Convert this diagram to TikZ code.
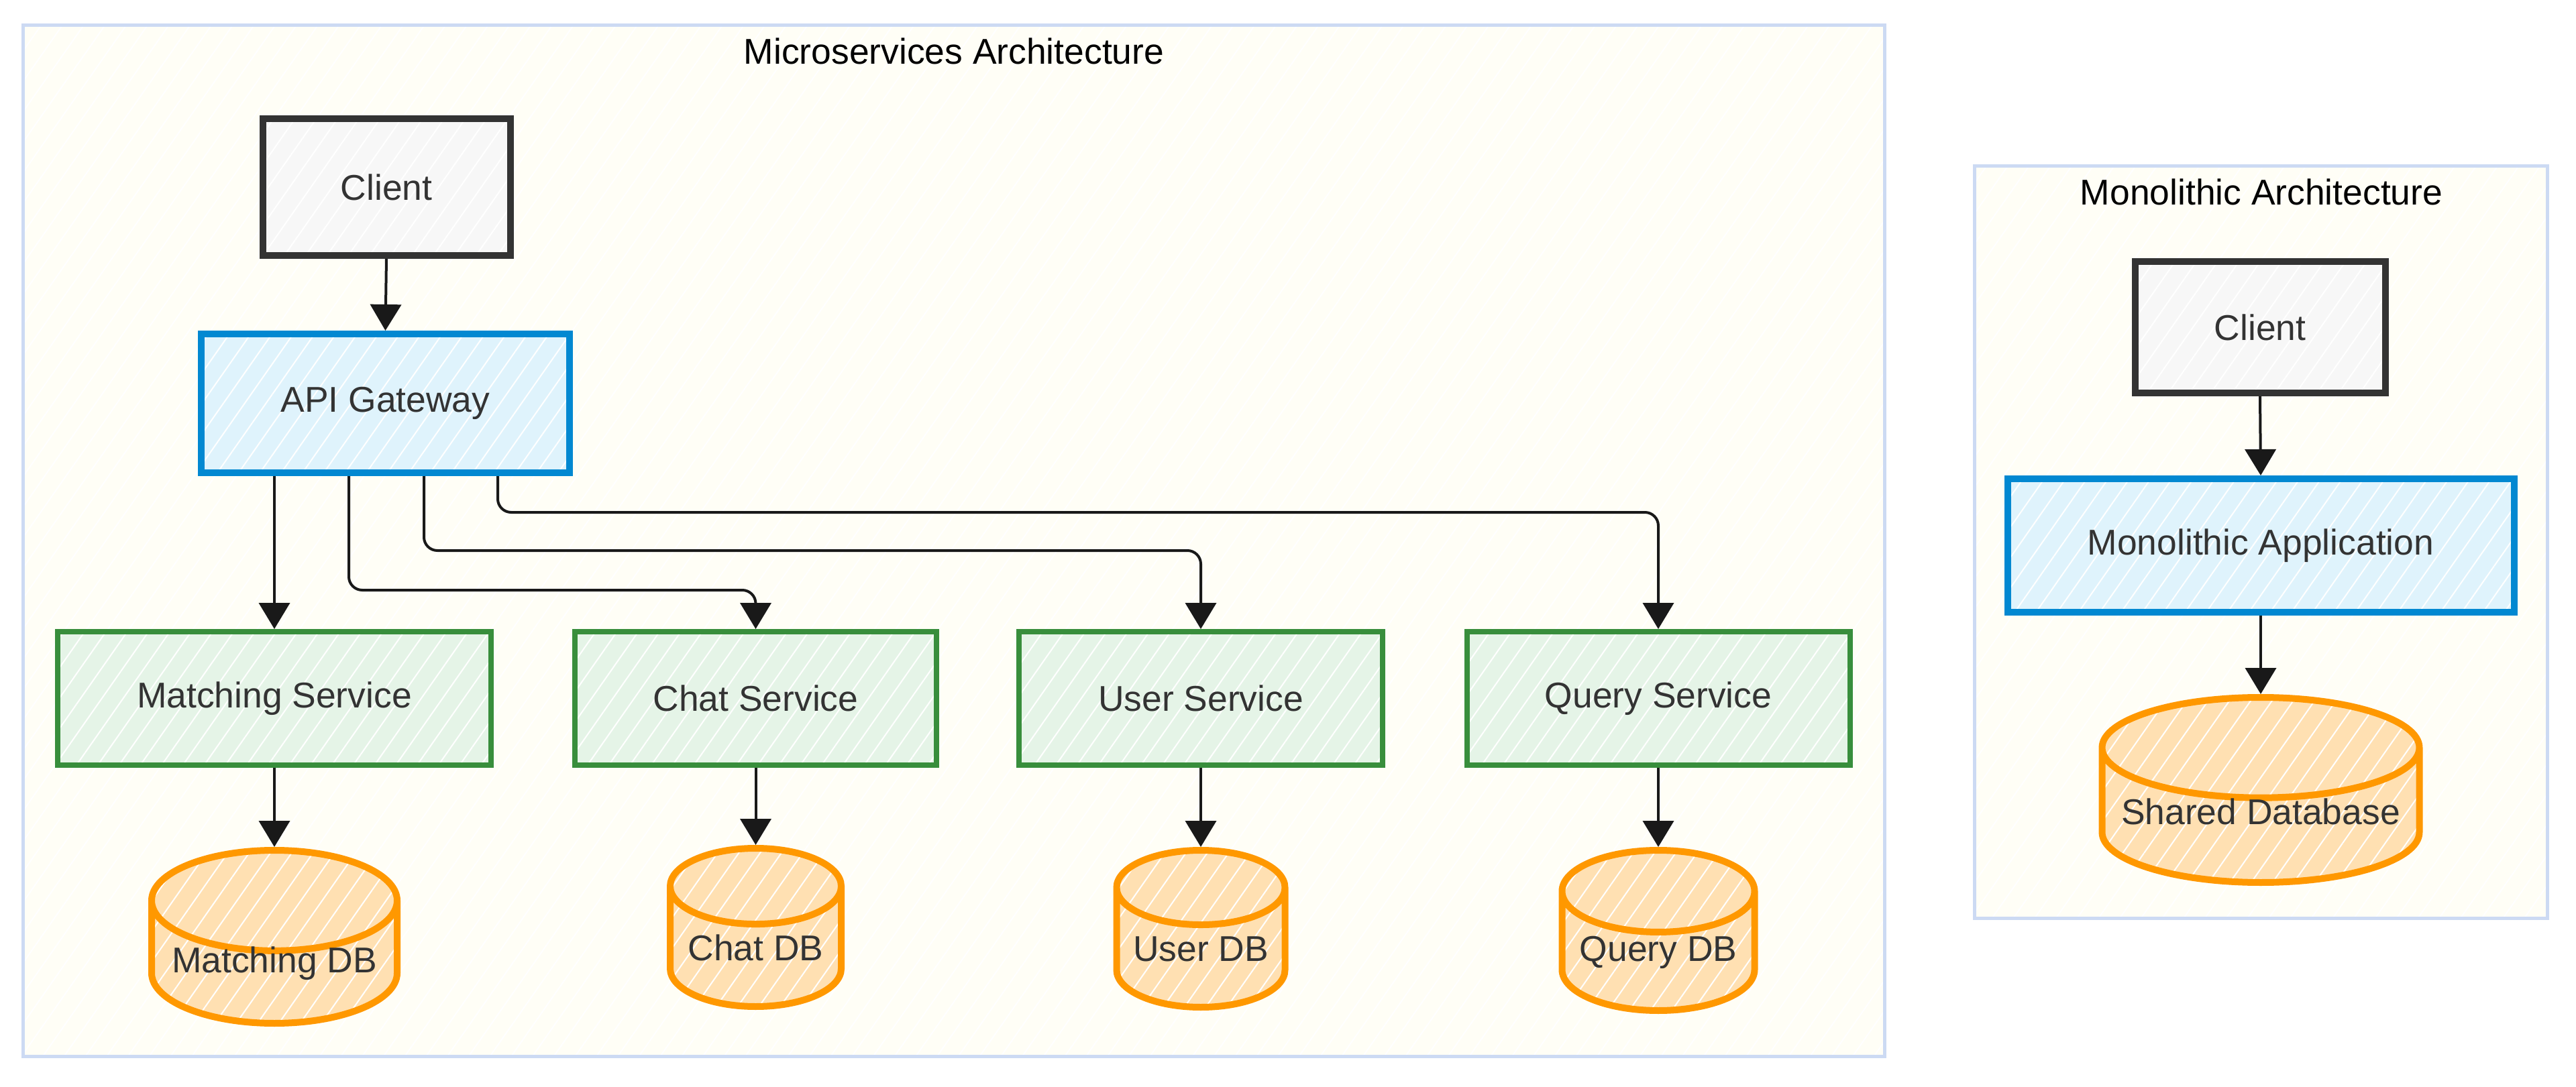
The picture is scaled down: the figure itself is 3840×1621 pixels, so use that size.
\documentclass[tikz,border=0pt]{standalone}
\usepackage{fontspec}
\setmainfont{Liberation Sans}
\usetikzlibrary{shapes.geometric,arrows.meta,patterns.meta}

\definecolor{framecol}{HTML}{CCDAF3}
\definecolor{framefill}{HTML}{FFFEF6}
\definecolor{clientfill}{HTML}{F7F7F7}
\definecolor{clientline}{HTML}{333333}
\definecolor{apifill}{HTML}{DFF3FC}
\definecolor{apiline}{HTML}{0288D1}
\definecolor{svcfill}{HTML}{E5F4E7}
\definecolor{svcline}{HTML}{388E3C}
\definecolor{dbfill}{HTML}{FFE0B2}
\definecolor{dbline}{HTML}{FF9800}
\definecolor{txt}{HTML}{333333}

\tikzset{
  lbl/.style={font=\fontsize{15.2}{18}\selectfont, text=txt, inner sep=0pt},
  sketch/.style={pattern={Lines[angle=55,distance=2.6mm,line width=0.2mm]}, pattern color=white},
  archframe/.style={draw=framecol, line width=0.5mm, preaction={fill=framefill}, preaction={sketch}},
  archtitle/.style={font=\fontsize{15.2}{18}\selectfont, text=black},
  clientbox/.style={lbl, draw=clientline, line width=1mm, preaction={fill=clientfill}, preaction={sketch}},
  apibox/.style={lbl, draw=apiline, line width=1mm, preaction={fill=apifill}, preaction={sketch}},
  svcbox/.style={lbl, draw=svcline, line width=0.8mm, minimum height=19.9mm, preaction={fill=svcfill}, preaction={sketch}},
  dbcyl/.style={lbl, inner ysep=-2.5mm, cylinder, shape border rotate=90, draw=dbline, line width=1mm, anchor=north, preaction={fill=dbfill}, preaction={sketch}},
  arr/.style={-{Triangle[length=3.9mm,width=4.6mm]}, line width=0.4mm, black!90},
}

\begin{document}
\begin{tikzpicture}[x=0.1mm, y=-0.1mm]
\useasboundingbox (0,0) rectangle (3840,1621);

\node[archframe, minimum width=277.5mm, minimum height=153.8mm] (micro) at (1421.5,806) {};
\node[archtitle] (microtitle) at (1422,76) {Microservices Architecture};

\node[clientbox, minimum width=36.9mm, minimum height=20.4mm] (client) at (576,279) {Client};
\node[apibox, minimum width=54.9mm, minimum height=20.7mm] (api) at (574.5,601.5) {API Gateway};

\node[svcbox, minimum width=64.6mm] (match) at (409,1041.5) {Matching Service};
\node[svcbox, minimum width=53.9mm] (chat) at (1126.5,1041.5) {Chat Service};
\node[svcbox, minimum width=54.2mm] (user) at (1790,1041.5) {User Service};
\node[svcbox, minimum width=57.1mm] (query) at (2472,1041.5) {Query Service};

\node[dbcyl, aspect=0.49, minimum width=36.6mm, minimum height=25.8mm] (matchdb) at (409,1263) {Matching DB};
\node[dbcyl, aspect=0.56, minimum width=25.5mm, minimum height=23.6mm] (chatdb) at (1126.5,1260) {Chat DB};
\node[dbcyl, aspect=0.55, minimum width=25.1mm, minimum height=23.4mm] (userdb) at (1790,1263) {User DB};
\node[dbcyl, aspect=0.52, minimum width=28.7mm, minimum height=23.9mm] (querydb) at (2472,1263) {Query DB};

\draw[arr] (client.south) -- (api.north);
\draw[arr] (api.south -| match.north) -- (match.north);
\draw[arr, rounded corners=2mm] ([xshift=-5.45mm]api.south) -- ++(0,170) -| (chat.north);
\draw[arr, rounded corners=2mm] ([xshift=5.75mm]api.south) -- ++(0,111) -| (user.north);
\draw[arr, rounded corners=2mm] ([xshift=16.75mm]api.south) -- ++(0,54) -| (query.north);

\draw[arr] (match.south) -- (matchdb.north);
\draw[arr] (chat.south) -- (chatdb.north);
\draw[arr] (user.south) -- (userdb.north);
\draw[arr] (query.south) -- (querydb.north);

\node[archframe, minimum width=85.4mm, minimum height=112.2mm] (mono) at (3370,808) {};
\node[archtitle] (monotitle) at (3371,286) {Monolithic Architecture};

\node[clientbox, minimum width=37.3mm, minimum height=19.6mm] (monoclient) at (3369,488) {Client};
\node[apibox, minimum width=75.5mm, minimum height=19.9mm] (monoapp) at (3370,813.5) {Monolithic Application};
\node[dbcyl, aspect=0.36, minimum width=47.3mm, minimum height=27.6mm, text depth=1.5mm] (shareddb) at (3370,1035) {Shared Database};

\draw[arr] (monoclient.south) -- (monoapp.north);
\draw[arr] (monoapp.south) -- (shareddb.north);
\end{tikzpicture}
\end{document}
